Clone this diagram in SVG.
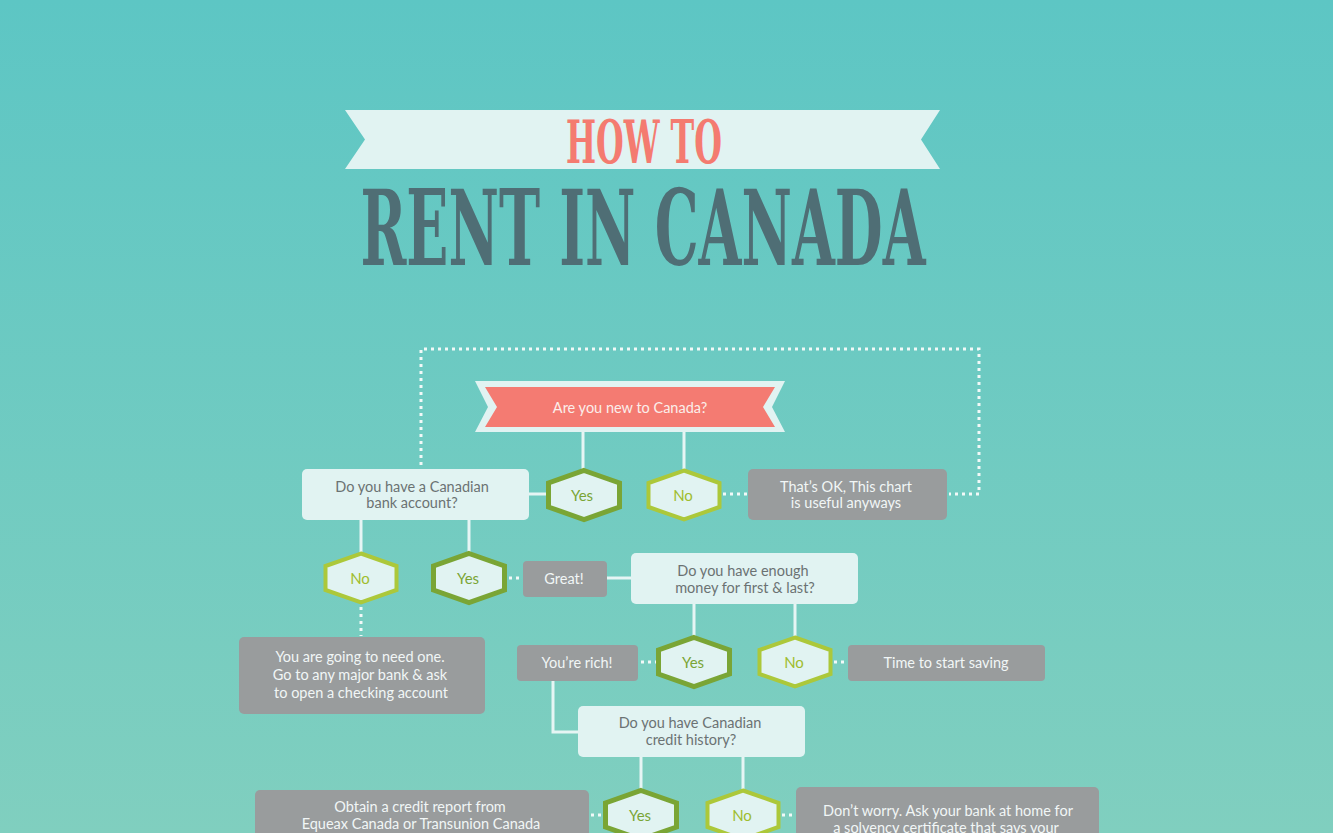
<svg xmlns="http://www.w3.org/2000/svg" width="1333" height="833" viewBox="0 0 1333 833">
<defs>
<linearGradient id="bg" x1="0" y1="0" x2="0" y2="1">
<stop offset="0" stop-color="#5dc6c4"/>
<stop offset="1" stop-color="#80cfbf"/>
</linearGradient>
<path id="hex" d="M0,-24.5 L35.5,-12 L35.5,12 L0,24.5 L-35.5,12 L-35.5,-12 Z"/>
</defs>
<style>
.light{fill:#e1f3f2}
.gray{fill:#999c9d}
.t{font-family:Lato,"Open Sans",sans-serif;font-size:14.5px;text-anchor:middle;dominant-baseline:central}
.dk{fill:#6b7273}
.wt{fill:#f1f6f6}
.hy{fill:#e1f3f2;stroke:#7aa535;stroke-width:5}
.hn{fill:#e1f3f2;stroke:#acc83a;stroke-width:4}
.ty{fill:#7aa535;font-family:Lato,"Open Sans",sans-serif;font-size:15px;text-anchor:middle;dominant-baseline:central}
.tn{fill:#9fbd2e;font-family:Lato,"Open Sans",sans-serif;font-size:15px;text-anchor:middle;dominant-baseline:central}
.solid{fill:none;stroke:#e6f5f4;stroke-width:3}
.dot{fill:none;stroke:#f2f9f8;stroke-width:3;stroke-dasharray:3 4}
.ttl{font-family:'DejaVu Serif Condensed','DejaVu Serif',serif;font-weight:bold;text-anchor:middle}
</style>
<rect width="1333" height="833" fill="url(#bg)"/>

<g id="title">
<polygon points="345,110 940,110 921,139.5 940,169 345,169 365,139.5" fill="#e1f3f2"/>
<text class="ttl" x="644" y="163" font-size="60" fill="#f47b70" textLength="156" lengthAdjust="spacingAndGlyphs">HOW TO</text>
<text class="ttl" x="643" y="265" font-size="104" fill="#4f6e75" textLength="565" lengthAdjust="spacingAndGlyphs">RENT IN CANADA</text>
</g>

<g id="connectors">
<polyline class="dot" points="421,465 421,349 979,349 979,494 949,494"/>
<line class="solid" x1="583" y1="432" x2="583" y2="470"/>
<line class="solid" x1="684" y1="432" x2="684" y2="470"/>
<line class="solid" x1="529" y1="494" x2="548" y2="494"/>
<line class="dot" x1="723" y1="494" x2="747" y2="494"/>
<line class="solid" x1="361" y1="520" x2="361" y2="555"/>
<line class="solid" x1="469" y1="520" x2="469" y2="555"/>
<line class="dot" x1="509" y1="578" x2="522" y2="578"/>
<line class="solid" x1="607" y1="578" x2="631" y2="578"/>
<line class="dot" x1="361" y1="607" x2="361" y2="636"/>
<line class="solid" x1="694" y1="604" x2="694" y2="639"/>
<line class="solid" x1="795" y1="604" x2="795" y2="639"/>
<line class="dot" x1="641" y1="662" x2="656" y2="662"/>
<line class="dot" x1="834" y1="662" x2="847" y2="662"/>
<polyline class="solid" points="553,681 553,732 578,732"/>
<line class="solid" x1="641" y1="757" x2="641" y2="792"/>
<line class="solid" x1="743" y1="757" x2="743" y2="792"/>
<line class="dot" x1="591" y1="815" x2="604" y2="815"/>
<line class="dot" x1="782" y1="815" x2="795" y2="815"/>
</g>

<g id="new-to-canada">
<polygon points="475,381 785,381 772,407 785,432 475,432 488,407" fill="#e1f3f2"/>
<polygon points="485,387 775,387 763,407 775,427 485,427 497,407" fill="#f47b72"/>
<text class="t" x="630" y="407" fill="#fbeeea">Are you new to Canada?</text>
</g>

<g id="bank-account">
<rect class="light" x="302" y="469" width="227" height="51" rx="5"/>
<text class="t dk" x="412" y="486">Do you have a Canadian</text>
<text class="t dk" x="412" y="502">bank account?</text>
</g>

<g id="yes1"><use href="#hex" class="hy" x="584" y="495"/><text class="ty" x="582" y="495">Yes</text></g>
<g id="no1"><use href="#hex" class="hn" x="684" y="495"/><text class="tn" x="683" y="495">No</text></g>

<g id="thats-ok">
<rect class="gray" x="748" y="469" width="199" height="51" rx="5"/>
<text class="t wt" x="846" y="486">That’s OK, This chart</text>
<text class="t wt" x="846" y="502">is useful anyways</text>
</g>

<g id="no2"><use href="#hex" class="hn" x="361" y="578"/><text class="tn" x="360" y="578">No</text></g>
<g id="yes2"><use href="#hex" class="hy" x="469" y="578"/><text class="ty" x="468" y="578">Yes</text></g>

<g id="great">
<rect class="gray" x="523" y="561" width="84" height="36" rx="4"/>
<text class="t wt" x="564" y="578">Great!</text>
</g>

<g id="money">
<rect class="light" x="631" y="553" width="227" height="51" rx="5"/>
<text class="t dk" x="743" y="570">Do you have enough</text>
<text class="t dk" x="745" y="587">money for first &amp; last?</text>
</g>

<g id="need-one">
<rect class="gray" x="239" y="637" width="246" height="77" rx="5"/>
<text class="t wt" x="360" y="656">You are going to need one.</text>
<text class="t wt" x="360" y="674">Go to any major bank &amp; ask</text>
<text class="t wt" x="361" y="692">to open a checking account</text>
</g>

<g id="rich">
<rect class="gray" x="517" y="645" width="121" height="36" rx="4"/>
<text class="t wt" x="577" y="662">You’re rich!</text>
</g>

<g id="yes3"><use href="#hex" class="hy" x="694" y="662"/><text class="ty" x="693" y="662">Yes</text></g>
<g id="no3"><use href="#hex" class="hn" x="795" y="662"/><text class="tn" x="794" y="662">No</text></g>

<g id="saving">
<rect class="gray" x="848" y="645" width="197" height="36" rx="4"/>
<text class="t wt" x="946" y="662">Time to start saving</text>
</g>

<g id="credit-history">
<rect class="light" x="578" y="706" width="227" height="51" rx="5"/>
<text class="t dk" x="690" y="722">Do you have Canadian</text>
<text class="t dk" x="691" y="739">credit history?</text>
</g>

<g id="yes4"><use href="#hex" class="hy" x="641" y="815"/><text class="ty" x="640" y="815">Yes</text></g>
<g id="no4"><use href="#hex" class="hn" x="743" y="815"/><text class="tn" x="742" y="815">No</text></g>

<g id="credit-report">
<rect class="gray" x="255" y="790" width="334" height="60" rx="5"/>
<text class="t wt" x="420" y="806">Obtain a credit report from</text>
<text class="t wt" x="421" y="823">Equeax Canada or Transunion Canada</text>
</g>

<g id="dont-worry">
<rect class="gray" x="796" y="787" width="303" height="60" rx="5"/>
<text class="t wt" x="948" y="810">Don’t worry. Ask your bank at home for</text>
<text class="t wt" x="946" y="827">a solvency certificate that says your</text>
</g>
</svg>
